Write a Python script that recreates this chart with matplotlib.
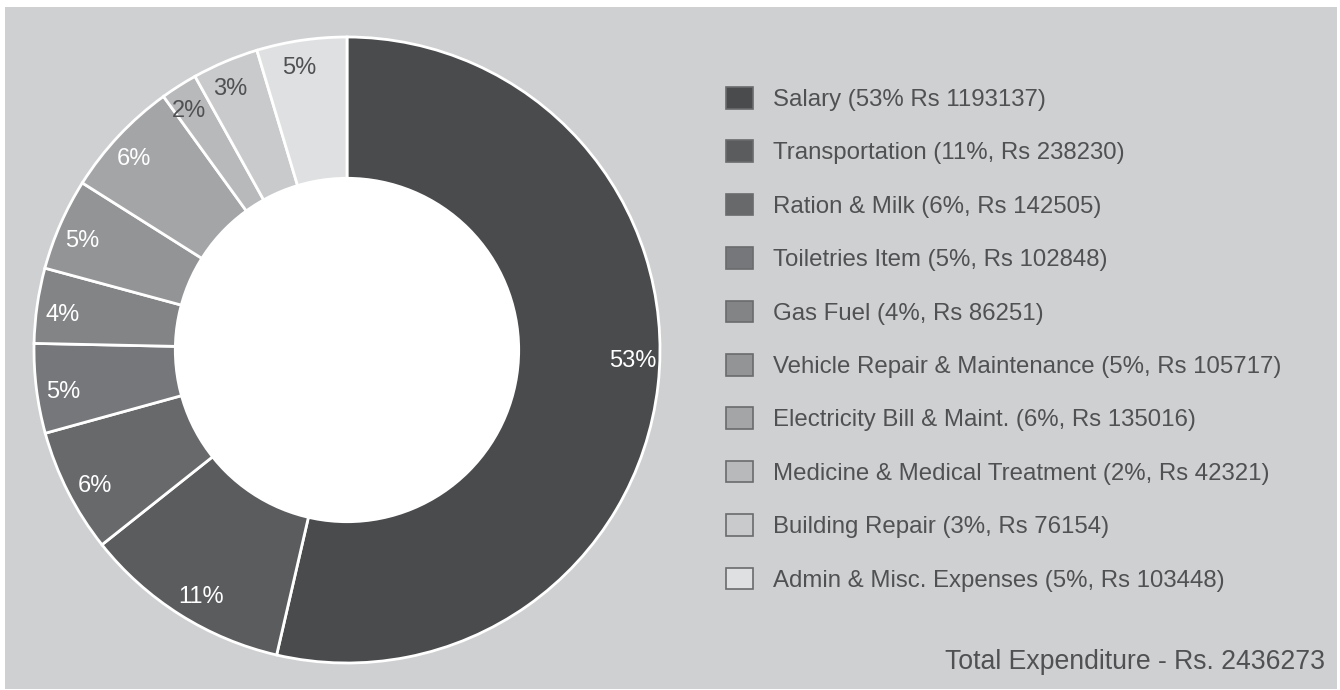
import numpy as np
import matplotlib.pyplot as plt
from matplotlib.patches import Rectangle, Circle, Patch

plt.rcParams["font.family"] = ["Liberation Sans", "DejaVu Sans"]

categories = [
    "Salary",
    "Transportation",
    "Ration & Milk",
    "Toiletries Item",
    "Gas Fuel",
    "Vehicle Repair & Maintenance",
    "Electricity Bill & Maint.",
    "Medicine & Medical Treatment",
    "Building Repair",
    "Admin & Misc. Expenses",
]
amounts = [1193137, 238230, 142505, 102848, 86251, 105717, 135016, 42321, 76154, 103448]
pct_labels = ["53%", "11%", "6%", "5%", "4%", "5%", "6%", "2%", "3%", "5%"]
legend_labels = [
    "Salary (53% Rs 1193137)",
    "Transportation (11%, Rs 238230)",
    "Ration & Milk (6%, Rs 142505)",
    "Toiletries Item (5%, Rs 102848)",
    "Gas Fuel (4%, Rs 86251)",
    "Vehicle Repair & Maintenance (5%, Rs 105717)",
    "Electricity Bill & Maint. (6%, Rs 135016)",
    "Medicine & Medical Treatment (2%, Rs 42321)",
    "Building Repair (3%, Rs 76154)",
    "Admin & Misc. Expenses (5%, Rs 103448)",
]
total_text = "Total Expenditure - Rs. 2436273"

colors = ["#4a4b4d", "#5b5c5e", "#68696b", "#76777a", "#838486",
          "#939496", "#a4a5a7", "#b8b9bb", "#c9cacc", "#dfe0e1"]
label_colors = ["white"] * 7 + ["#505153"] * 3
text_color = "#505153"
panel_color = "#cfd0d2"

W, H = 1340, 690
fig = plt.figure(figsize=(W / 100, H / 100), dpi=100)
fig.patch.set_facecolor("white")
fig.patches.append(Rectangle((5 / W, 1 - 689 / H), (1337 - 5) / W, (689 - 7) / H,
                             transform=fig.transFigure, facecolor=panel_color,
                             edgecolor="none", zorder=-10))

# donut axes: centre (347, 350) px, outer radius 313 px
cx, cy, R, half = 347, 350, 313, 322
ax = fig.add_axes([(cx - half) / W, 1 - (cy + half) / H, 2 * half / W, 2 * half / H])
ax.set_facecolor("none")
ax.set_zorder(2)
ring = 0.447
wedges, _ = ax.pie(amounts, colors=colors, startangle=90, counterclock=False,
                   radius=1.0,
                   wedgeprops=dict(edgecolor="white", linewidth=2.0))
ax.add_patch(Circle((0, 0), 1 - ring, facecolor="white", edgecolor="none", zorder=5))

# labels sit near the outer rim, nudged a little back toward the start
for w, lab, c in zip(wedges, pct_labels, label_colors):
    mid = (w.theta1 + w.theta2) / 2
    halfspan = abs(w.theta2 - w.theta1) / 2
    ang = np.deg2rad(mid + 1.0 + 0.035 * halfspan)
    r = 0.915
    ax.text(r * np.cos(ang), r * np.sin(ang), lab, ha="center", va="center",
            fontsize=17, color=c, zorder=6)

lim = half / R
ax.set_xlim(-lim, lim)
ax.set_ylim(-lim, lim)
ax.set_aspect("equal")
ax.axis("off")

handles = [Patch(facecolor=c, edgecolor="#6a6b6d", linewidth=1.2) for c in colors]
leg = fig.legend(handles, legend_labels, loc="upper left",
                 bbox_to_anchor=(726 / W, 1 - 87 / H), frameon=False,
                 fontsize=17.3, labelcolor=text_color,
                 handlelength=1.12, handleheight=1.0, handletextpad=0.82,
                 labelspacing=1.225, borderpad=0, borderaxespad=0)
leg.set_zorder(3)

fig.text(1325 / W, 1 - 662 / H, total_text, ha="right", va="center",
         fontsize=19.2, color=text_color)

fig.savefig("out.png", dpi=100, facecolor=fig.get_facecolor())
